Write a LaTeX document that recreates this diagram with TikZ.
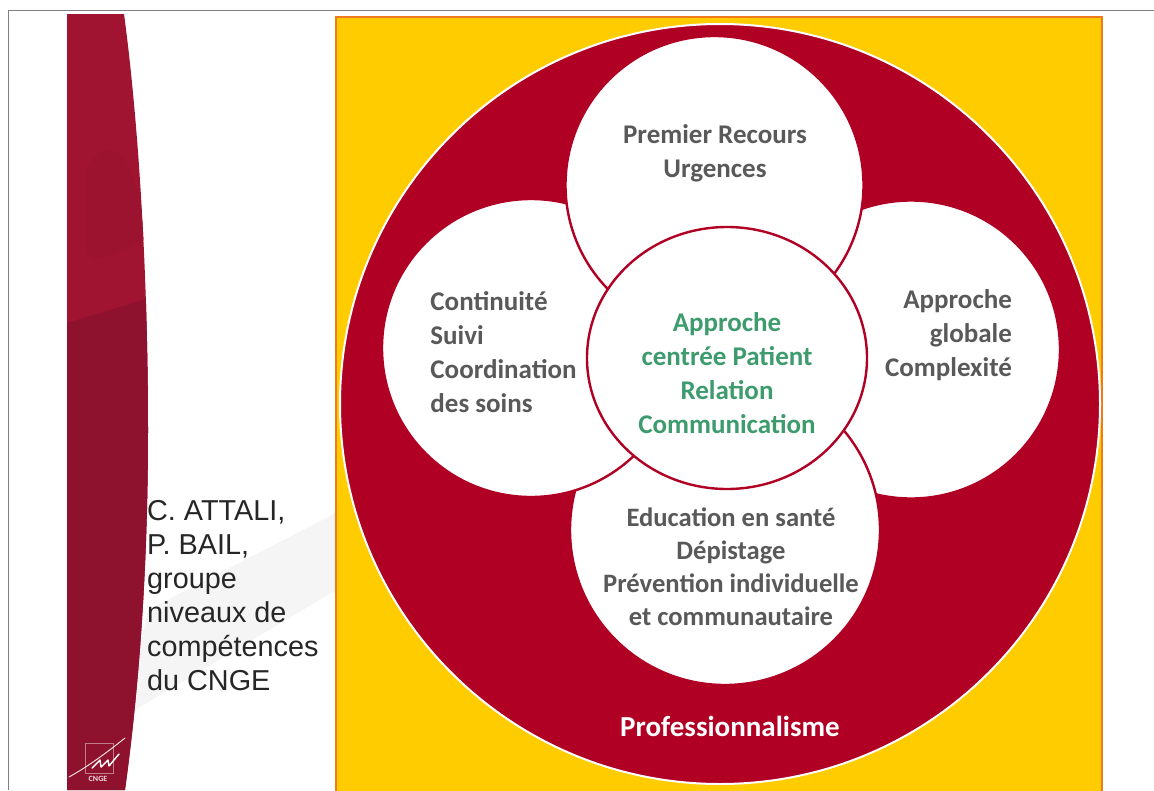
\documentclass[tikz,border=0pt]{standalone}
\usepackage{fontspec}
\setmainfont{Carlito}
\newfontfamily\sidefont{Liberation Sans}
\usepackage{xcolor}
\usetikzlibrary{shapes.geometric}
\definecolor{highlightcolor}{HTML}{B00024}
\definecolor{bandcolor}{HTML}{A01331}
\definecolor{banddark}{HTML}{8E112D}
\definecolor{yellowcolor}{HTML}{FFCC00}
\definecolor{orangecolor}{HTML}{F07A1E}
\definecolor{greycolor}{HTML}{595959}
\definecolor{greencolor}{HTML}{3E9B6E}
\colorlet{washedcolor}{black!4!white}
\tikzstyle{petal} =[
    circle,
    draw=highlightcolor,
    fill=white,
    line width=2.4pt,
    inner sep=0pt
    ]
\tikzstyle{petaltext} =[
    text=greycolor,
    font=\fontsize{27}{34}\selectfont\bfseries,
    inner sep=0pt
    ]
\tikzstyle{sidetext} =[
    text=black!85,
    font=\sidefont\fontsize{28.8}{34}\selectfont,
    align=left,
    anchor=north west,
    inner sep=0pt
    ]
\begin{document}
\begin{tikzpicture}[x=1pt,y=-1pt]
\useasboundingbox (0,0) rectangle (1154,790);
% frame
\fill[white] (0,0) rectangle (1154,790);
\draw[black!50,line width=1.8pt] (8.5,790) -- (8.5,10.5) -- (1154,10.5);
% grey band
\fill[washedcolor] (125,716) -- (148,610) -- (336,513) -- (336,590) -- cycle;
% side band
\path[fill=bandcolor] (67,14) -- (124,14) .. controls (137,110) and (148,260) .. (148,430)
    .. controls (148,590) and (136,710) .. (125,790) -- (67,790) -- cycle;
\begin{scope}
\clip (67,14) -- (124,14) .. controls (137,110) and (148,260) .. (148,430)
    .. controls (148,590) and (136,710) .. (125,790) -- (67,790) -- cycle;
\fill[banddark] (67,323) -- (150,298) -- (150,790) -- (67,790) -- cycle;
\fill[banddark!25!bandcolor] (85,170) .. controls (115,120) and (140,170) .. (145,240)
    .. controls (115,250) and (95,270) .. (86,250) -- cycle;
\end{scope}
% logo
\draw[white!45!banddark,line width=0.6pt] (85,743) rectangle (113,773);
\draw[white!85!banddark,line width=1pt,line cap=round] (69,777) .. controls (85,768) and (100,758) .. (125,738);
\draw[white,line width=1.4pt,line cap=round,line join=round] (92,768) -- (100,760) -- (101,767) -- (108,760) -- (109,766) -- (119,754);
\node[text=white!85!banddark,font=\fontsize{8}{8}\selectfont\bfseries,inner sep=0pt] (logotext) at (98,779) {CNGE};
% side text
\node[sidetext] (authors) at (147,500) {C. ATTALI,\\P. BAIL,\\groupe\\niveaux de\\compétences\\du CNGE};
% yellow square
\draw[draw=orangecolor,fill=yellowcolor,line width=1.5pt] (336,17) rectangle (1102,800);
\node[circle,draw=white,fill=highlightcolor,line width=2pt,minimum size=760pt,inner sep=0pt] (prof) at (720,404) {};
% petals
\node[petal,minimum size=298pt] (right) at (911,349.5) {};
\node[petal,minimum size=310pt] (bottom) at (725,530) {};
\node[petal,minimum size=298pt] (left) at (531,348) {};
\node[petal,minimum size=298pt] (top) at (714.5,185) {};
\node[ellipse,draw=highlightcolor,fill=white,line width=2.4pt,minimum width=280pt,minimum height=262pt,inner sep=0pt] (centre) at (727,358) {};
% labels
\node[petaltext,align=center] (toplabel) at (715,153) {Premier Recours\\Urgences};
\node[petaltext,align=left] (leftlabel) at (503.5,352) {Continuité\\Suivi\\Coordination\\des soins};
\node[petaltext,align=right] (rightlabel) at (948.5,335) {Approche\\globale\\Complexité};
\node[petaltext,align=center,font=\fontsize{26.6}{33}\selectfont\bfseries] (bottomlabel) at (731,566.5) {Education en santé\\Dépistage\\Prévention individuelle\\et communautaire};
\node[petaltext,align=center,text=greencolor] (centrelabel) at (727,373.5) {Approche\\centrée Patient\\Relation\\Communication};
\node[petaltext,text=white,font=\fontsize{29}{30}\selectfont\bfseries] (proflabel) at (730,726) {Professionnalisme};
\end{tikzpicture}
\end{document}
